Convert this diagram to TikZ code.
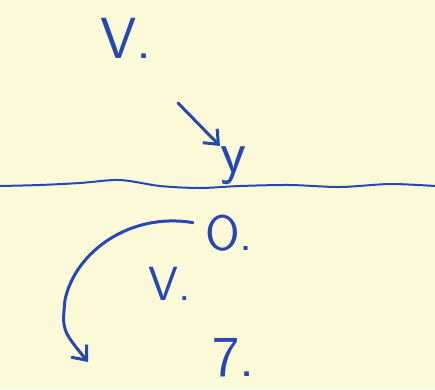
\documentclass[tikz,border=0pt]{standalone}
\usetikzlibrary{arrows.meta}
\definecolor{ink}{RGB}{38,72,178}
\definecolor{paper}{RGB}{253,250,218}
\tikzset{
  mark/.style={text=ink, inner sep=0pt, font=\sffamily\fontsize{#1}{#1}\selectfont},
  pen/.style={draw=ink, line width=3pt, line cap=round, line join=round},
}
\begin{document}
\begin{tikzpicture}[x=1pt, y=-1pt, >={Straight Barb[length=12pt, width=20pt, line width=3pt]}]
    \fill[paper] (0,0) rectangle (435,389);
    \useasboundingbox (0,0) rectangle (435,389);
    % upper half
    \node[mark=58, anchor=base west] (vup) at (100,58) {V.};
    \node[mark=60, anchor=base west] (yup) at (220,172) {y};
    \draw[pen, ->] (178,103) coordinate (s1) -- (yup.north west);
    % the wavy line
    \draw[pen, line width=2pt] plot[smooth] coordinates
        {(0,186) (40,185) (80,183) (120,180) (160,186) (200,188) (240,186)
         (290,185) (340,187) (390,184) (435,186)};
    % lower half
    \node[mark=50, anchor=base west] (ozero) at (205,250) {O.};
    \node[mark=48, anchor=base west] (vdown) at (148,300) {V.};
    \node[mark=58, anchor=base west] (seven) at (212,376) {7.};
    \coordinate (tip) at (88,362);
    \draw[pen, ->] (ozero.west) ++(-12,-10) coordinate (s2)
        .. controls (130,212) and (75,252) .. (65,300)
        .. controls (62,330) .. (tip);
\end{tikzpicture}
\end{document}
